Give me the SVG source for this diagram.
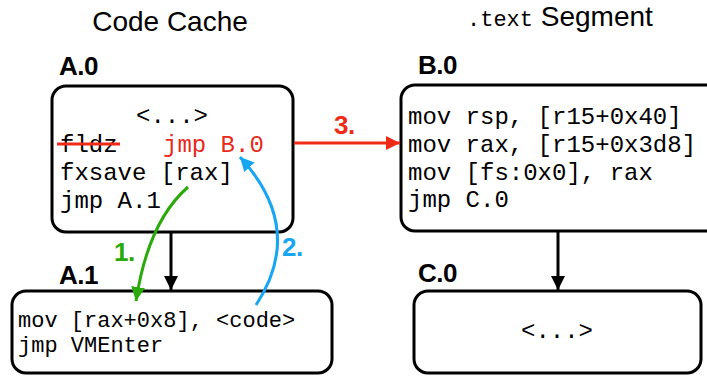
<svg xmlns="http://www.w3.org/2000/svg" width="707" height="379" viewBox="0 0 707 379">
  <style>
    .box { fill: #ffffff; stroke: #000000; stroke-width: 3; }
    .head { font-family: "Liberation Sans", Arial, sans-serif; font-size: 28px; fill: #000000; }
    .mono { font-family: "Liberation Mono", "Courier New", monospace; fill: #000000; }
    .code { font-size: 24px; }
    .code-sm { font-size: 22px; }
    .lbl { font-family: "Liberation Sans", Arial, sans-serif; font-size: 26px; font-weight: bold; fill: #000000; letter-spacing: -0.5px; }
    .red { fill: #e8291c; }
    .step { font-family: "Liberation Sans", Arial, sans-serif; font-size: 26px; font-weight: bold; letter-spacing: -0.5px; }
    .edge { fill: none; stroke-width: 3; }
  </style>
  <defs>
    <marker id="ah-black" viewBox="0 0 10 10" refX="10" refY="5" markerUnits="userSpaceOnUse" markerWidth="14" markerHeight="14" orient="auto">
      <path d="M0,0 L10,5 L0,10 Z" fill="#000000"/>
    </marker>
    <marker id="ah-red" viewBox="0 0 10 10" refX="10" refY="5" markerUnits="userSpaceOnUse" markerWidth="14" markerHeight="14" orient="auto">
      <path d="M0,0 L10,5 L0,10 Z" fill="#ef2a16"/>
    </marker>
    <marker id="ah-green" viewBox="0 0 10 10" refX="10" refY="5" markerUnits="userSpaceOnUse" markerWidth="14" markerHeight="14" orient="auto">
      <path d="M0,0 L10,5 L0,10 Z" fill="#2aaa0a"/>
    </marker>
    <marker id="ah-blue" viewBox="0 0 10 10" refX="10" refY="5" markerUnits="userSpaceOnUse" markerWidth="14" markerHeight="14" orient="auto">
      <path d="M0,0 L10,5 L0,10 Z" fill="#16a6f2"/>
    </marker>
  </defs>

  <!-- column headings -->
  <text class="head" x="170" y="31" text-anchor="middle">Code Cache</text>
  <text x="467" y="26"><tspan class="mono" font-size="22">.text</tspan><tspan class="head"> Segment</tspan></text>

  <g id="A0">
    <text class="lbl" x="59" y="75">A.0</text>
    <rect class="box" x="52" y="86" width="241" height="146" rx="14"/>
    <text class="mono code" x="172" y="123" text-anchor="middle">&lt;...&gt;</text>
    <text class="mono code" x="60" y="152">fldz</text>
    <line x1="57" y1="144" x2="120" y2="144" stroke="#ef2a16" stroke-width="3"/>
    <text class="mono code red" x="163" y="152">jmp B.0</text>
    <text class="mono code" x="60" y="180">fxsave [rax]</text>
    <text class="mono code" x="60" y="208">jmp A.1</text>
  </g>

  <g id="A1">
    <text class="lbl" x="59" y="284">A.1</text>
    <rect class="box" x="12" y="291" width="320" height="82" rx="14"/>
    <text class="mono code-sm" x="18" y="327">mov [rax+0x8], &lt;code&gt;</text>
    <text class="mono code-sm" x="18" y="352">jmp VMEnter</text>
  </g>

  <g id="B0">
    <text class="lbl" x="418" y="74">B.0</text>
    <rect class="box" x="401" y="85" width="330" height="146" rx="14"/>
    <text class="mono code" x="408" y="124">mov rsp, [r15+0x40]</text>
    <text class="mono code" x="408" y="152">mov rax, [r15+0x3d8]</text>
    <text class="mono code" x="408" y="180">mov [fs:0x0], rax</text>
    <text class="mono code" x="408" y="207">jmp C.0</text>
  </g>

  <g id="C0">
    <text class="lbl" x="418" y="282">C.0</text>
    <rect class="box" x="414" y="291" width="287" height="82" rx="14"/>
    <text class="mono code" x="557" y="338" text-anchor="middle">&lt;...&gt;</text>
  </g>

  <g id="connectors">
    <line class="edge" x1="171" y1="233" x2="171" y2="290" stroke="#000000" marker-end="url(#ah-black)"/>
    <line class="edge" x1="558" y1="232" x2="558" y2="290" stroke="#000000" marker-end="url(#ah-black)"/>
    <line class="edge" x1="294" y1="143" x2="400" y2="143" stroke="#ef2a16" marker-end="url(#ah-red)"/>
    <text class="step" x="334" y="134" fill="#ef2a16">3.</text>
    <path class="edge" d="M188,187 Q148,222 136,301" stroke="#2aaa0a" marker-end="url(#ah-green)"/>
    <text class="step" x="114" y="261" fill="#2aaa0a">1.</text>
    <path class="edge" d="M256,305 Q306,229 240,157" stroke="#16a6f2" marker-end="url(#ah-blue)"/>
    <text class="step" x="282" y="256" fill="#16a6f2">2.</text>
  </g>
</svg>
